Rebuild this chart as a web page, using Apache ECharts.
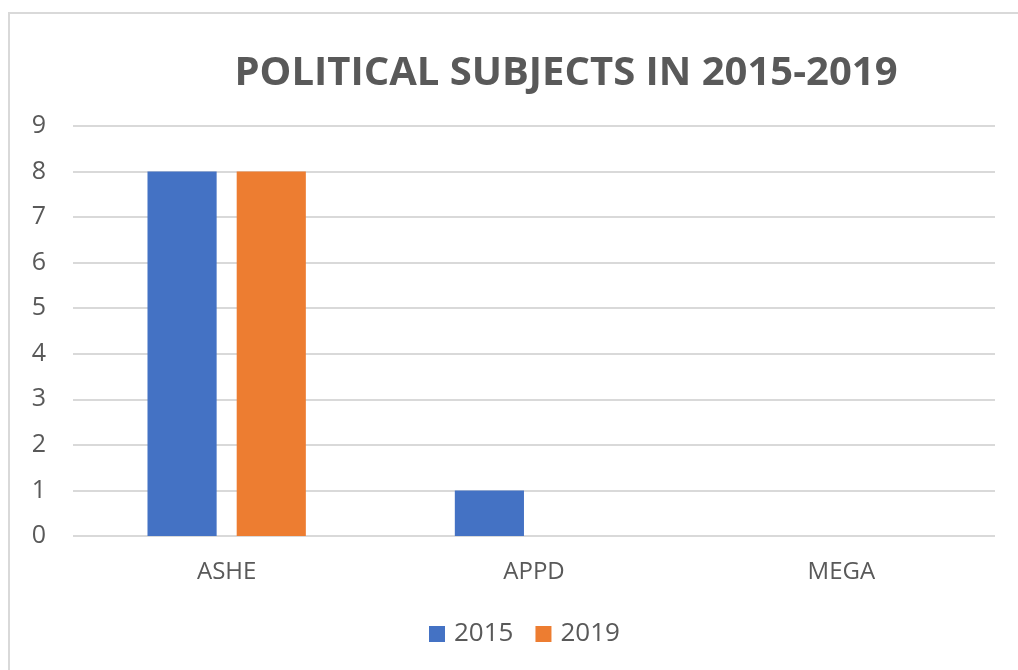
<!DOCTYPE html>
<html>
<head>
<meta charset="utf-8">
<script src="https://cdn.jsdelivr.net/npm/echarts@6/dist/echarts.min.js"></script>
<style>
html,body{margin:0;padding:0;background:#fff;}
#chart{width:1018px;height:670px;}
</style>
</head>
<body>
<div id="chart"></div>
<script>
const titleText = 'POLITICAL SUBJECTS IN 2015-2019';
const categories = ['ASHE', 'APPD', 'MEGA'];
const seriesNames = ['2015', '2019'];
const values2015 = [8, 1, 0];
const values2019 = [8, 0, 0];
const yTicks = { min: 0, max: 9, interval: 1 };

const font = '"Open Sans", "Noto Sans", sans-serif';
const chart = echarts.init(document.getElementById('chart'), null, { renderer: 'canvas' });
chart.setOption({
  backgroundColor: '#ffffff',
  animation: false,
  textStyle: { fontFamily: font },
  graphic: [{
    type: 'rect',
    shape: { x: 9, y: 13, width: 1100, height: 800 },
    style: { fill: 'none', stroke: '#d9d9d9', lineWidth: 2 },
    silent: true
  }],
  title: {
    text: titleText,
    left: 561,
    textAlign: 'center',
    top: 49,
    textStyle: { fontFamily: font, fontSize: 40, fontWeight: 'bold', color: '#595959' }
  },
  legend: {
    data: seriesNames,
    bottom: 18,
    left: 424,
    itemWidth: 16,
    itemHeight: 16,
    itemGap: 22,
    icon: 'rect',
    textStyle: { fontFamily: font, fontSize: 26, color: '#595959', padding: [0, 0, 0, 4] }
  },
  grid: { left: 73, right: 23, top: 126, bottom: 134, containLabel: false },
  xAxis: {
    type: 'category',
    data: categories,
    axisLine: { show: false },
    axisTick: { show: false },
    axisLabel: { fontFamily: font, fontSize: 24, color: '#595959', margin: 24 }
  },
  yAxis: {
    type: 'value',
    min: yTicks.min,
    max: yTicks.max,
    interval: yTicks.interval,
    axisLine: { show: false },
    axisTick: { show: false },
    splitLine: { lineStyle: { color: '#d9d9d9', width: 2 } },
    axisLabel: { fontFamily: font, fontSize: 25, color: '#595959', margin: 27 }
  },
  series: [
    { name: seriesNames[0], type: 'bar', data: values2015, barWidth: '22.5%', barGap: '29%', itemStyle: { color: '#4472C4' } },
    { name: seriesNames[1], type: 'bar', data: values2019, barWidth: '22.5%', barGap: '29%', itemStyle: { color: '#ED7D31' } }
  ]
});
</script>
</body>
</html>
